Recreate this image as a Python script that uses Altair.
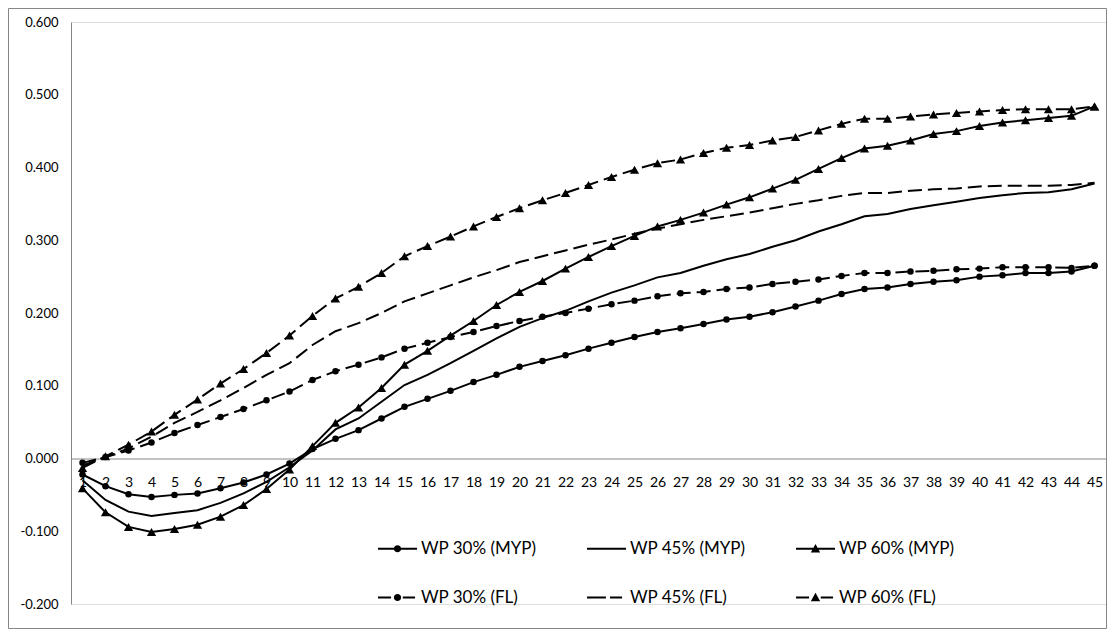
import math
import altair as alt
import pandas as pd

t = list(range(1, 46))
series_names = ["WP 30% (MYP)", "WP 45% (MYP)", "WP 60% (MYP)",
                "WP 30% (FL)", "WP 45% (FL)", "WP 60% (FL)"]

myp30 = [-0.022, -0.038, -0.049, -0.053, -0.050, -0.048, -0.041, -0.033, -0.022, -0.007,
         0.013, 0.027, 0.039, 0.055, 0.071, 0.082, 0.093, 0.105, 0.115, 0.126,
         0.134, 0.142, 0.151, 0.159, 0.167, 0.174, 0.179, 0.185, 0.191, 0.195,
         0.201, 0.209, 0.217, 0.226, 0.233, 0.235, 0.240, 0.243, 0.245, 0.250,
         0.252, 0.255, 0.255, 0.257, 0.265]
myp45 = [-0.030, -0.057, -0.073, -0.079, -0.075, -0.071, -0.061, -0.048, -0.032, -0.012,
         0.011, 0.040, 0.055, 0.078, 0.101, 0.115, 0.131, 0.148, 0.165, 0.181,
         0.193, 0.203, 0.216, 0.228, 0.238, 0.249, 0.255, 0.265, 0.274, 0.281,
         0.291, 0.300, 0.312, 0.322, 0.333, 0.336, 0.343, 0.348, 0.353, 0.358,
         0.362, 0.365, 0.366, 0.370, 0.378]
myp60 = [-0.041, -0.074, -0.094, -0.101, -0.097, -0.091, -0.080, -0.064, -0.042, -0.015,
         0.017, 0.049, 0.070, 0.097, 0.129, 0.148, 0.169, 0.189, 0.211, 0.229,
         0.244, 0.261, 0.277, 0.292, 0.306, 0.319, 0.328, 0.338, 0.349, 0.359,
         0.371, 0.383, 0.398, 0.413, 0.426, 0.430, 0.437, 0.446, 0.450, 0.457,
         0.462, 0.465, 0.468, 0.471, 0.484]
fl30 = [-0.006, 0.002, 0.011, 0.022, 0.035, 0.046, 0.057, 0.068, 0.080, 0.092,
        0.108, 0.120, 0.129, 0.139, 0.151, 0.159, 0.167, 0.174, 0.182, 0.189,
        0.195, 0.200, 0.206, 0.212, 0.217, 0.223, 0.227, 0.229, 0.233, 0.235,
        0.240, 0.243, 0.246, 0.251, 0.255, 0.255, 0.257, 0.258, 0.260, 0.261,
        0.263, 0.263, 0.263, 0.262, 0.265]
fl45 = [-0.010, 0.002, 0.014, 0.030, 0.049, 0.064, 0.080, 0.097, 0.115, 0.131,
        0.156, 0.175, 0.186, 0.200, 0.216, 0.227, 0.238, 0.249, 0.259, 0.270,
        0.278, 0.286, 0.294, 0.301, 0.309, 0.316, 0.322, 0.328, 0.333, 0.338,
        0.344, 0.350, 0.355, 0.361, 0.365, 0.365, 0.368, 0.370, 0.371, 0.374,
        0.375, 0.375, 0.375, 0.376, 0.379]
fl60 = [-0.013, 0.003, 0.019, 0.037, 0.060, 0.081, 0.103, 0.123, 0.145, 0.169,
        0.196, 0.220, 0.236, 0.255, 0.278, 0.292, 0.305, 0.319, 0.332, 0.344,
        0.355, 0.365, 0.376, 0.387, 0.397, 0.406, 0.411, 0.420, 0.427, 0.431,
        0.437, 0.442, 0.451, 0.460, 0.467, 0.467, 0.470, 0.473, 0.475, 0.477,
        0.479, 0.480, 0.480, 0.480, 0.484]

y_ticks = [-0.2, -0.1, 0.0, 0.1, 0.2, 0.3, 0.4, 0.5, 0.6]

all_values = [myp30, myp45, myp60, fl30, fl45, fl60]
markers = ["circle", "none", "triangle", "circle", "none", "triangle"]
styles = ["solid", "solid", "solid", "dashed", "dashed", "dashed"]

rows = []
for name, vals, mk, st in zip(series_names, all_values, markers, styles):
    for ti, v in zip(t, vals):
        rows.append({"t": ti, "value": v, "series": name, "marker": mk, "style": st})
df = pd.DataFrame(rows)

# ---- legend symbol paths (unit coords, symbol is 39px wide) ----
h = 0.056
r = 0.185


def f(v):
    return f"{v:.3f}"


def rect(x0, x1):
    return f"M{f(x0)},{f(-h)}L{f(x1)},{f(-h)}L{f(x1)},{f(h)}L{f(x0)},{f(h)}Z"


def circ(cx, rr):
    pts = []
    for k in range(16):
        a = 2 * math.pi * k / 16
        pts.append((cx + rr * math.cos(a), rr * math.sin(a)))
    s = "M" + f(pts[0][0]) + "," + f(pts[0][1])
    for px, py in pts[1:]:
        s += "L" + f(px) + "," + f(py)
    return s + "Z"


tri = "M0,-0.240L0.240,0.190L-0.240,0.190Z"
legend_paths = [
    rect(-1, -r + 0.02) + circ(0, r) + rect(r - 0.02, 1),
    rect(-1, 1),
    rect(-1, -0.12) + tri + rect(0.12, 1),
    rect(-1, -0.33) + circ(0, r) + rect(0.27, 0.9),
    rect(-1, -0.03) + rect(0.18, 0.8),
    rect(-1, -0.33) + tri + rect(0.27, 0.9),
]

W, H = 1035, 582
zero_offset = -(H * 0.2 / 0.8)

x_enc = alt.X("t:O", title=None,
              axis=alt.Axis(orient="bottom", offset=zero_offset, labelAngle=0,
                            ticks=False, tickSize=0, labelPadding=17,
                            labelFontSize=14, labelColor="black",
                            domainColor="#868686", domainWidth=1,
                            labelOverlap=False, labelFont="Lato"))
y_enc = alt.Y("value:Q", title=None,
              scale=alt.Scale(domain=[-0.2, 0.6], nice=False, zero=False),
              axis=alt.Axis(values=y_ticks, grid=False, ticks=False,
                            labelPadding=13, labelFontSize=13, labelColor="black",
                            domainColor="#868686", domainWidth=1, labelFont="Lato",
                            labelExpr="replace(format(datum.value, '.3f'), '\u2212', '-')"))

base = alt.Chart(df)

frame = alt.Chart(alt.Data(values=[{"a": 1}])).mark_rect(
    fill="white", fillOpacity=0, stroke="#868686", strokeWidth=1
).encode(x=alt.value(-62.5), x2=alt.value(1035.5),
         y=alt.value(-13.5), y2=alt.value(606.5))

solid_lines = base.transform_filter(alt.datum.style == "solid").mark_line(
    color="black", strokeWidth=2
).encode(x=x_enc, y=y_enc, detail="series:N")

dashed_lines = base.transform_filter(alt.datum.style == "dashed").mark_line(
    color="black", strokeWidth=2, strokeDash=[14, 6]
).encode(x=x_enc, y=y_enc, detail="series:N")

circles = base.transform_filter(alt.datum.marker == "circle").mark_point(
    shape="circle", filled=True, color="black", opacity=1, size=42
).encode(x=x_enc, y=y_enc)

triangles = base.transform_filter(alt.datum.marker == "triangle").mark_point(
    shape="triangle-up", filled=True, color="black", opacity=1, size=85
).encode(x=x_enc, y=y_enc)

legend_layer = base.transform_filter(alt.datum.t == 1).mark_point(
    filled=True, color="black"
).encode(
    x=x_enc, y=y_enc,
    opacity=alt.value(0),
    shape=alt.Shape("series:N",
                    scale=alt.Scale(domain=series_names, range=legend_paths),
                    legend=alt.Legend(orient="none", legendX=307, legendY=507,
                                      columns=3, direction="horizontal",
                                      symbolSize=1521, labelFontSize=17,
                                      labelFont="Lato", labelColor="black",
                                      labelOffset=4, rowPadding=21,
                                      columnPadding=50, padding=0, title=None,
                                      symbolStrokeWidth=0, symbolFillColor="black",
                                      symbolOpacity=1, labelLimit=300)),
)

chart = alt.layer(frame, solid_lines, dashed_lines, circles, triangles,
                  legend_layer).properties(
    width=W, height=H,
    autosize=alt.AutoSizeParams(type="none"),
    padding={"left": 63, "top": 14, "right": 1, "bottom": 25},
).configure_view(stroke=None).configure(font="Lato")

chart.save("out.html", embed_options={"renderer": "svg", "actions": False})
